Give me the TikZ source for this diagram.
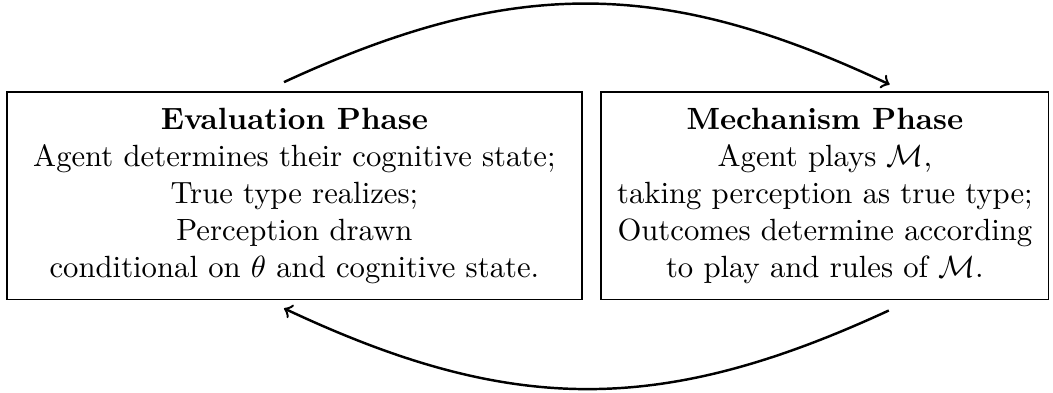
\documentclass[tikz,border=0pt]{standalone}
\usetikzlibrary{positioning, calc}

\tikzset{
	phase/.style={draw, align=center, minimum height=67.7pt, inner sep=2pt}
}

\begin{document}
\begin{tikzpicture}
	\useasboundingbox (0, 0) rectangle (343pt, -127.7pt);

	\node[phase, minimum width=187.3pt] (eval) at (95.9pt, -63.8pt) {\textbf{Evaluation Phase}\\ Agent determines their cognitive state;\\ True type realizes;\\ Perception drawn\\ conditional on $\theta$ and cognitive state.};
	\node[phase, minimum width=145.9pt, right=5.8pt of eval] (mech) {\textbf{Mechanism Phase}\\ Agent plays $\mathcal{M}$,\\ taking perception as true type;\\ Outcomes determine according\\ to play and rules of $\mathcal{M}$.};

	\coordinate (evalTop) at ($(eval.north) + (-3.4pt, 3pt)$);
	\coordinate (mechTop) at ($(mech.north) + (21.1pt, 2.2pt)$);
	\coordinate (mechBot) at ($(mech.south) + (20.8pt, -3.3pt)$);
	\coordinate (evalBot) at ($(eval.south) + (-3.4pt, -2.6pt)$);

	\draw[thick, ->] (evalTop) to[bend left=25, looseness=1.06] (mechTop);
	\draw[thick, ->] (mechBot) to[bend left=25, looseness=1.06] (evalBot);
\end{tikzpicture}
\end{document}
